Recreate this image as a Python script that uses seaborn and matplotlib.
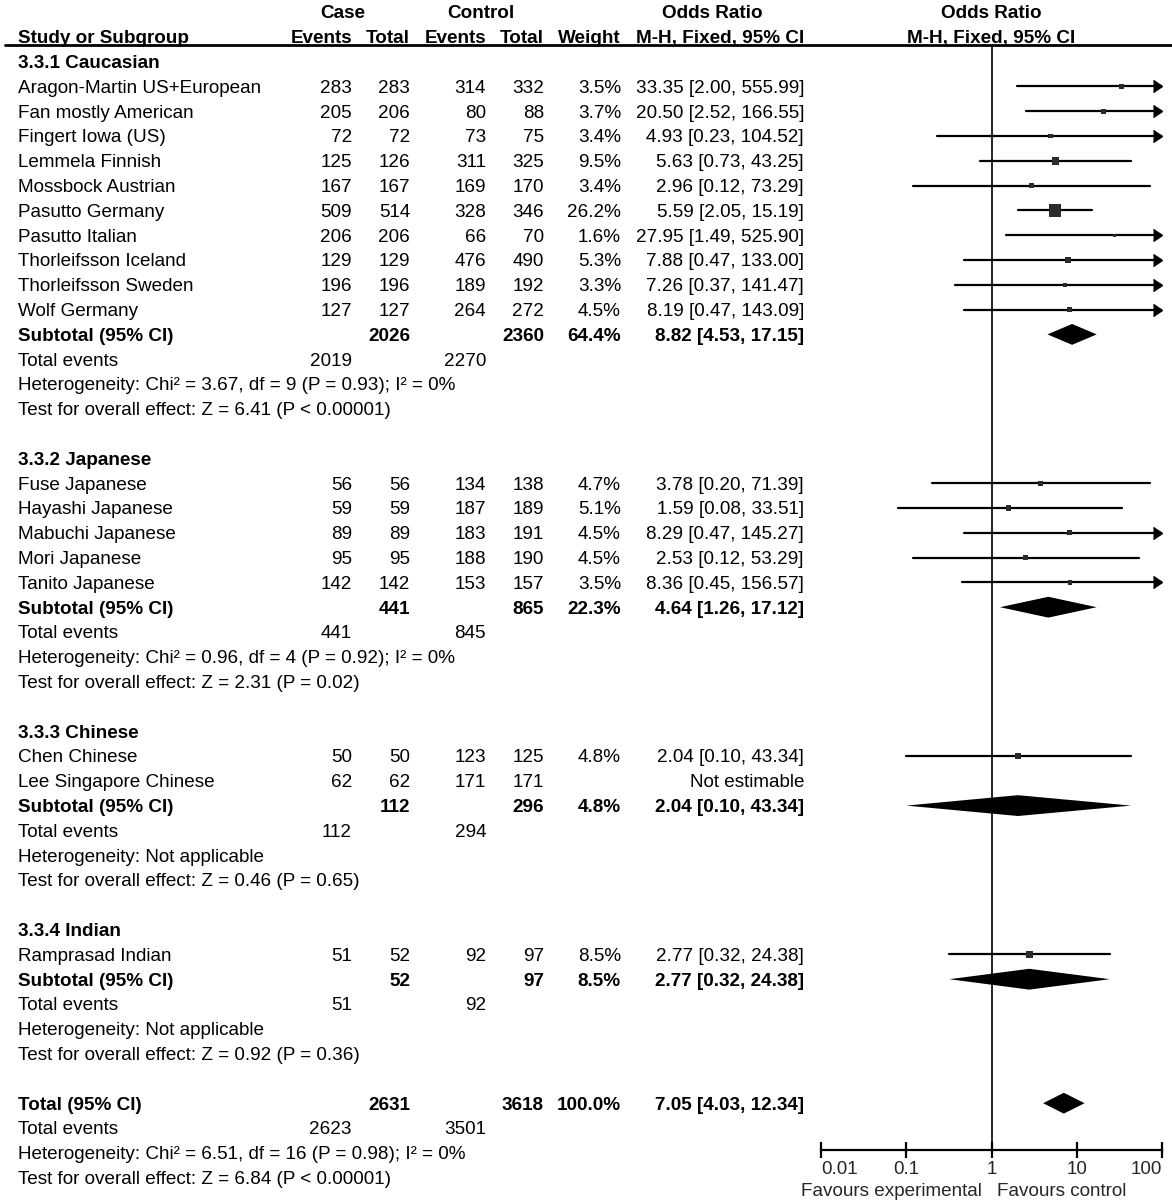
import numpy as np
import pandas as pd
import matplotlib.pyplot as plt
import seaborn as sns

# Study level data
study = ["Aragon-Martin US+European", "Fan mostly American", "Fingert Iowa (US)",
         "Lemmela Finnish", "Mossbock Austrian", "Pasutto Germany", "Pasutto Italian",
         "Thorleifsson Iceland", "Thorleifsson Sweden", "Wolf Germany",
         "Fuse Japanese", "Hayashi Japanese", "Mabuchi Japanese", "Mori Japanese",
         "Tanito Japanese",
         "Chen Chinese", "Lee Singapore Chinese",
         "Ramprasad Indian"]
group = [0] * 10 + [1] * 5 + [2] * 2 + [3]
case_events = [283, 205, 72, 125, 167, 509, 206, 129, 196, 127, 56, 59, 89, 95, 142, 50, 62, 51]
case_total = [283, 206, 72, 126, 167, 514, 206, 129, 196, 127, 56, 59, 89, 95, 142, 50, 62, 52]
ctrl_events = [314, 80, 73, 311, 169, 328, 66, 476, 189, 264, 134, 187, 183, 188, 153, 123, 171, 92]
ctrl_total = [332, 88, 75, 325, 170, 346, 70, 490, 192, 272, 138, 189, 191, 190, 157, 125, 171, 97]
weight = [3.5, 3.7, 3.4, 9.5, 3.4, 26.2, 1.6, 5.3, 3.3, 4.5, 4.7, 5.1, 4.5, 4.5, 3.5, 4.8, np.nan, 8.5]
odds = [33.35, 20.50, 4.93, 5.63, 2.96, 5.59, 27.95, 7.88, 7.26, 8.19,
        3.78, 1.59, 8.29, 2.53, 8.36, 2.04, np.nan, 2.77]
ci_lo = [2.00, 2.52, 0.23, 0.73, 0.12, 2.05, 1.49, 0.47, 0.37, 0.47,
         0.20, 0.08, 0.47, 0.12, 0.45, 0.10, np.nan, 0.32]
ci_hi = [555.99, 166.55, 104.52, 43.25, 73.29, 15.19, 525.90, 133.00, 141.47, 143.09,
         71.39, 33.51, 145.27, 53.29, 156.57, 43.34, np.nan, 24.38]

# Subgroup summaries
sub_names = ["3.3.1 Caucasian", "3.3.2 Japanese", "3.3.3 Chinese", "3.3.4 Indian"]
sub_case_total = [2026, 441, 112, 52]
sub_ctrl_total = [2360, 865, 296, 97]
sub_weight = [64.4, 22.3, 4.8, 8.5]
sub_or = [8.82, 4.64, 2.04, 2.77]
sub_lo = [4.53, 1.26, 0.10, 0.32]
sub_hi = [17.15, 17.12, 43.34, 24.38]
sub_case_events = [2019, 441, 112, 51]
sub_ctrl_events = [2270, 845, 294, 92]
sub_het = ["Chi\u00b2 = 3.67, df = 9 (P = 0.93); I\u00b2 = 0%",
           "Chi\u00b2 = 0.96, df = 4 (P = 0.92); I\u00b2 = 0%",
           "Not applicable", "Not applicable"]
sub_z = ["Z = 6.41 (P < 0.00001)", "Z = 2.31 (P = 0.02)",
         "Z = 0.46 (P = 0.65)", "Z = 0.92 (P = 0.36)"]

# Overall
tot_case_total, tot_ctrl_total = 2631, 3618
tot_or, tot_lo, tot_hi = 7.05, 4.03, 12.34
tot_case_events, tot_ctrl_events = 2623, 3501
tot_het = "Chi\u00b2 = 6.51, df = 16 (P = 0.98); I\u00b2 = 0%"
tot_z = "Z = 6.84 (P < 0.00001)"

xticks = [0.01, 0.1, 1, 10, 100]
xtick_labels = ["0.01", "0.1", "1", "10", "100"]

sns.set_theme(style="white")
plt.rcParams['font.family'] = ['Liberation Sans', 'DejaVu Sans']
FS = 13.6

W, H = 1172, 1200
fig = plt.figure(figsize=(W / 100, H / 100), dpi=100)
tab = fig.add_axes([0, 0, 1, 1])
tab.set_xlim(0, W)
tab.set_ylim(H, 0)
tab.axis('off')

ROW0, DY = 12, 24.8
TXT_DY = 2  # text sits a little lower than the row centre


def ypx(r):
    return ROW0 + DY * r


# column right edges
X_NAME, X_CEV, X_CTOT, X_KEV, X_KTOT, X_WT, X_OR = 18, 352, 410, 486, 544, 621, 804


def put(x, r, s, ha='right', bold=False):
    tab.text(x, ypx(r) + TXT_DY, s, ha=ha, va='center', fontsize=FS,
             fontweight='bold' if bold else 'normal', color='black')


def fmt_w(w):
    return "" if np.isnan(w) else f"{w:.1f}%"


def fmt_or(o, lo, hi):
    if np.isnan(o):
        return "Not estimable"
    return f"{o:.2f} [{lo:.2f}, {hi:.2f}]"


# headers
put(343, 0, "Case", ha='center', bold=True)
put(481, 0, "Control", ha='center', bold=True)
put(712, 0, "Odds Ratio", ha='center', bold=True)
put(991, 0, "Odds Ratio", ha='center', bold=True)
put(X_NAME, 1, "Study or Subgroup", ha='left', bold=True)
for x, s in [(X_CEV, "Events"), (X_CTOT, "Total"), (X_KEV, "Events"),
             (X_KTOT, "Total"), (X_WT, "Weight"), (X_OR, "M-H, Fixed, 95% CI")]:
    put(x, 1, s, bold=True)
put(991, 1, "M-H, Fixed, 95% CI", ha='center', bold=True)
tab.plot([5, W], [45, 45], color='black', lw=2)

# lay out rows
study_rows = []
sub_rows = []
r = 2
for g, name in enumerate(sub_names):
    put(X_NAME, r, name, ha='left', bold=True)
    r += 1
    for i in [k for k in range(len(study)) if group[k] == g]:
        put(X_NAME, r, study[i], ha='left')
        put(X_CEV, r, str(case_events[i]))
        put(X_CTOT, r, str(case_total[i]))
        put(X_KEV, r, str(ctrl_events[i]))
        put(X_KTOT, r, str(ctrl_total[i]))
        put(X_WT, r, fmt_w(weight[i]))
        put(X_OR, r, fmt_or(odds[i], ci_lo[i], ci_hi[i]))
        study_rows.append(r)
        r += 1
    put(X_NAME, r, "Subtotal (95% CI)", ha='left', bold=True)
    put(X_CTOT, r, str(sub_case_total[g]), bold=True)
    put(X_KTOT, r, str(sub_ctrl_total[g]), bold=True)
    put(X_WT, r, f"{sub_weight[g]:.1f}%", bold=True)
    put(X_OR, r, fmt_or(sub_or[g], sub_lo[g], sub_hi[g]), bold=True)
    sub_rows.append(r)
    r += 1
    put(X_NAME, r, "Total events", ha='left')
    put(X_CEV, r, str(sub_case_events[g]))
    put(X_KEV, r, str(sub_ctrl_events[g]))
    put(X_NAME, r + 1, "Heterogeneity: " + sub_het[g], ha='left')
    put(X_NAME, r + 2, "Test for overall effect: " + sub_z[g], ha='left')
    r += 4

tot_row = r
put(X_NAME, r, "Total (95% CI)", ha='left', bold=True)
put(X_CTOT, r, str(tot_case_total), bold=True)
put(X_KTOT, r, str(tot_ctrl_total), bold=True)
put(X_WT, r, "100.0%", bold=True)
put(X_OR, r, fmt_or(tot_or, tot_lo, tot_hi), bold=True)
put(X_NAME, r + 1, "Total events", ha='left')
put(X_CEV, r + 1, str(tot_case_events))
put(X_KEV, r + 1, str(tot_ctrl_events))
put(X_NAME, r + 2, "Heterogeneity: " + tot_het, ha='left')
put(X_NAME, r + 3, "Test for overall effect: " + tot_z, ha='left')

# forest panel
AX_L, AX_R, AX_T, AX_B = 821, 1162, 45, 1150
ax = fig.add_axes([AX_L / W, (H - AX_B) / H, (AX_R - AX_L) / W, (AX_B - AX_T) / H])
ax.set_xscale('log')
ax.set_xlim(0.01, 100)
ax.set_ylim((AX_B - ROW0) / DY, (AX_T - ROW0) / DY)
ax.patch.set_alpha(0)
for side in ['top', 'right', 'left']:
    ax.spines[side].set_visible(False)
ax.spines['bottom'].set_linewidth(1.6)
ax.spines['bottom'].set_color('black')
ax.axvline(1, color='black', lw=1.2, zorder=1)

df = pd.DataFrame({"row": study_rows, "odds": odds, "lo": ci_lo, "hi": ci_hi, "weight": weight})
df = df.dropna()
XMAX = 100
for _, d in df.iterrows():
    ax.plot([d.lo, min(d.hi, XMAX)], [d.row, d.row], color='black', lw=1.6, zorder=2)
    if d.hi > XMAX:
        ax.plot([XMAX], [d.row], marker=5, markersize=9, color='black', clip_on=False, zorder=3)

sns.scatterplot(data=df, x="odds", y="row", size="weight", sizes=(0, 80),
                size_norm=(0, 26.2), marker='s', color='#2b2b2b', linewidth=0,
                legend=False, ax=ax, zorder=4)

h = 0.42
for g in range(len(sub_names)):
    ax.fill([sub_lo[g], sub_or[g], sub_hi[g], sub_or[g]],
            [sub_rows[g], sub_rows[g] - h, sub_rows[g], sub_rows[g] + h],
            color='black', lw=0, zorder=4)
ax.fill([tot_lo, tot_or, tot_hi, tot_or],
        [tot_row, tot_row - h, tot_row, tot_row + h], color='black', lw=0, zorder=4)

ax.set_xticks(xticks)
ax.set_xticklabels(xtick_labels, fontsize=FS)
ax.minorticks_off()
ax.tick_params(axis='x', which='major', direction='inout', length=12, width=1.6,
               color='black', pad=2, bottom=True)
ax.tick_params(axis='y', left=False, labelleft=False)
labels = ax.get_xticklabels()
labels[0].set_ha('left')
labels[-1].set_ha('right')
ax.set_xlabel("")
ax.set_ylabel("")
ax.grid(False)

tab.text(891, 1191, "Favours experimental", ha='center', va='center', fontsize=FS)
tab.text(1062, 1191, "Favours control", ha='center', va='center', fontsize=FS)

plt.savefig("out.png", dpi=100)
